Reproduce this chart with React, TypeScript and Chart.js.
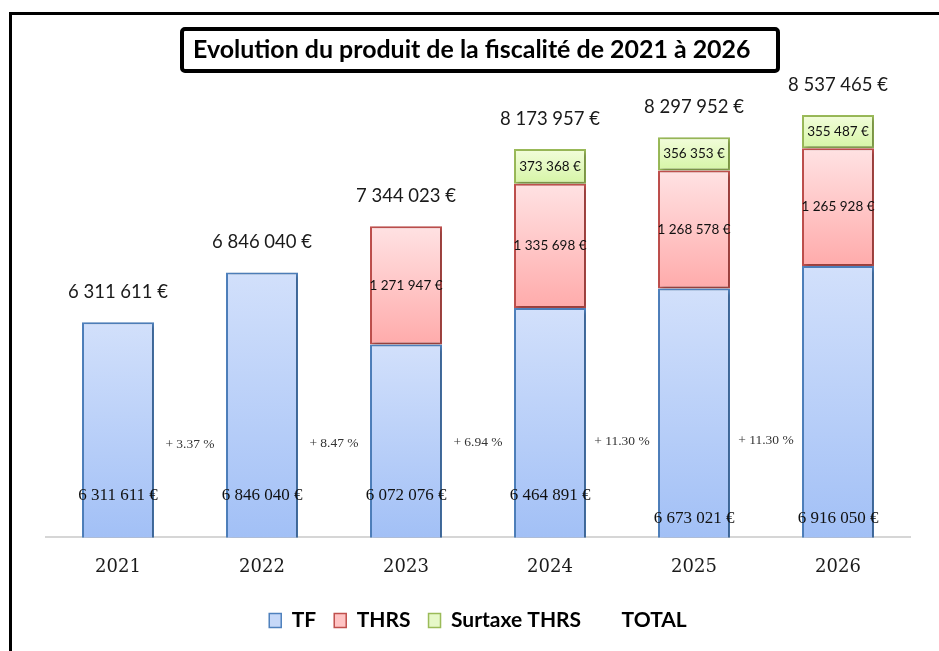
import React, { useEffect, useRef } from "react";
import { Chart, registerables } from "chart.js";

Chart.register(...registerables);

const categories = ["2021", "2022", "2023", "2024", "2025", "2026"];
const tfValues = [6311611, 6846040, 6072076, 6464891, 6673021, 6916050];
const thrsValues = [null, null, 1271947, 1335698, 1268578, 1265928];
const surtaxeValues = [null, null, null, 373368, 356353, 355487];
const totalValues = [6311611, 6846040, 7344023, 8173957, 8297952, 8537465];
const growthLabels = ["+ 3.37 %", "+ 8.47 %", "+ 6.94 %", "+ 11.30 %", "+ 11.30 %"];
const titleText = "Evolution du produit de la fiscalité de 2021 à 2026";

const Y_MIN = 4000000;
const Y_MAX = 9000000;
const GROWTH_LEVEL = 5000000;
const TF_LABEL_LIFT = [42, 42, 42, 42, 19, 19];

const SANS = "Lato, 'Open Sans', sans-serif";
const SERIF = "'Liberation Serif', 'DejaVu Serif', serif";
const SERIF_WIDE = "'DejaVu Serif', serif";

const fmt = (v: number) => String(v).replace(/\B(?=(\d{3})+(?!\d))/g, " ") + " €";

const stackSeries = [tfValues, thrsValues, surtaxeValues];

function gradientFor(top: string, bottom: string, solid: string) {
  return (ctx: any) => {
    const chart = ctx.chart;
    const { chartArea, scales } = chart;
    if (!chartArea || ctx.type !== "data" || !scales.y) return solid;
    const d = ctx.datasetIndex;
    const i = ctx.dataIndex;
    let start = 0;
    for (let k = 0; k < d; k++) start += (stackSeries[k][i] as number) || 0;
    const val = (stackSeries[d][i] as number) || 0;
    const yTop = scales.y.getPixelForValue(start + val);
    const yBot = scales.y.getPixelForValue(Math.max(start, Y_MIN));
    if (!isFinite(yTop) || !isFinite(yBot) || yTop === yBot) return solid;
    const g = chart.ctx.createLinearGradient(0, yTop, 0, yBot);
    g.addColorStop(0, top);
    g.addColorStop(1, bottom);
    return g;
  };
}

const framePlugin = {
  id: "frame",
  beforeDraw(chart: any) {
    const c = chart.ctx;
    c.save();
    c.fillStyle = "#ffffff";
    c.fillRect(0, 0, chart.width, chart.height);
    c.fillStyle = "#000000";
    c.fillRect(9, 12, 3, chart.height - 12);
    c.fillRect(9, 12, chart.width - 9, 3);
    // title box
    c.lineWidth = 4;
    c.strokeStyle = "#000";
    const bx = 182, by = 29, bw = 596, bh = 42;
    c.beginPath();
    if ((c as any).roundRect) (c as any).roundRect(bx, by, bw, bh, 3);
    else c.rect(bx, by, bw, bh);
    c.stroke();
    let size = 22;
    c.font = `bold ${size}px ${SANS}`;
    const w = c.measureText(titleText).width;
    size = size * (558 / w);
    c.font = `bold ${size}px ${SANS}`;
    c.fillStyle = "#000";
    c.textAlign = "left";
    c.textBaseline = "middle";
    c.fillText(titleText, 193, 50);
    c.restore();
  },
  beforeDatasetsDraw(chart: any) {
    const c = chart.ctx;
    c.save();
    c.shadowColor = "rgba(0,0,0,0.28)";
    c.shadowBlur = 4;
    c.shadowOffsetX = 2;
    c.shadowOffsetY = 2;
  },
  afterDatasetsDraw(chart: any) {
    const c = chart.ctx;
    c.restore();
    const xs = chart.scales.x;
    const ys = chart.scales.y;
    const basePx = ys.getPixelForValue(Y_MIN);
    c.save();
    c.textAlign = "center";
    c.textBaseline = "middle";
    // TF labels
    c.font = `17px ${SERIF}`;
    c.fillStyle = "#111";
    tfValues.forEach((v, i) => {
      c.fillText(fmt(v), xs.getPixelForValue(i), basePx - TF_LABEL_LIFT[i]);
    });
    // THRS & surtaxe labels centered
    c.font = `13.5px ${SANS}`;
    [1, 2].forEach((d) => {
      const meta = chart.getDatasetMeta(d);
      const vals = stackSeries[d];
      meta.data.forEach((el: any, i: number) => {
        const v = vals[i];
        if (v == null) return;
        c.fillText(fmt(v as number), el.x, (el.y + el.base) / 2);
      });
    });
    // totals
    c.font = `18.5px ${SANS}`;
    c.fillStyle = "#1a1a1a";
    totalValues.forEach((v, i) => {
      c.fillText(fmt(v), xs.getPixelForValue(i), ys.getPixelForValue(v) - 30);
    });
    // growth
    c.font = `13.5px ${SERIF}`;
    c.fillStyle = "#333";
    growthLabels.forEach((t, i) => {
      const x = (xs.getPixelForValue(i) + xs.getPixelForValue(i + 1)) / 2;
      c.fillText(t, x, ys.getPixelForValue(GROWTH_LEVEL) - i);
    });
    c.restore();
  },
};

const legendStyles = [
  { fill: "#c6d8f8", stroke: "#4f81bd" },
  { fill: "#ffc4c4", stroke: "#c0504d" },
  { fill: "#e6f8c8", stroke: "#9bbb59" },
  { fill: "rgba(0,0,0,0)", stroke: "rgba(0,0,0,0)" },
];

export default function App() {
  const ref = useRef<HTMLCanvasElement | null>(null);
  useEffect(() => {
    if (!ref.current) return;
    const chart = new Chart(ref.current, {
      type: "bar",
      data: {
        labels: categories,
        datasets: [
          {
            label: "TF",
            data: tfValues,
            backgroundColor: gradientFor("#d2e0fb", "#a2c0f6", "#bcd0f8"),
            borderColor: "#4f81bd",
            borderWidth: { top: 2, left: 2, right: 2, bottom: 0 },
            borderSkipped: false,
            categoryPercentage: 1,
            barPercentage: 0.5,
          } as any,
          {
            label: "THRS",
            data: thrsValues,
            backgroundColor: gradientFor("#ffe2e3", "#ffabab", "#ffc4c4"),
            borderColor: "#c0504d",
            borderWidth: { top: 2, left: 2, right: 2, bottom: 2 },
            borderSkipped: false,
            categoryPercentage: 1,
            barPercentage: 0.5,
          } as any,
          {
            label: "Surtaxe THRS",
            data: surtaxeValues,
            backgroundColor: gradientFor("#f2fddb", "#d6f5a6", "#e6f8c8"),
            borderColor: "#9bbb59",
            borderWidth: { top: 2, left: 2, right: 2, bottom: 2 },
            borderSkipped: false,
            categoryPercentage: 1,
            barPercentage: 0.5,
          } as any,
          {
            type: "line",
            label: "TOTAL",
            data: totalValues,
            showLine: false,
            pointRadius: 0,
            borderColor: "rgba(0,0,0,0)",
            backgroundColor: "rgba(0,0,0,0)",
          } as any,
        ],
      },
      options: {
        animation: false,
        responsive: false,
        layout: { padding: { left: 46, right: 29, top: 72, bottom: 10 } },
        scales: {
          x: {
            stacked: true,
            grid: { display: false, drawTicks: false },
            border: { display: true, color: "#d6d6d6", width: 2 },
            ticks: { color: "#1a1a1a", font: { family: SERIF_WIDE, size: 18 }, padding: 19 },
            afterFit: (scale: any) => {
              scale.height = scale.height - 5;
            },
          },
          y: {
            stacked: true,
            display: false,
            min: Y_MIN,
            max: Y_MAX,
          },
        },
        plugins: {
          title: { display: false },
          tooltip: { enabled: false },
          legend: {
            position: "bottom",
            labels: {
              boxWidth: 12,
              boxHeight: 14,
              padding: 18,
              color: "#000",
              font: { family: SANS, size: 21, weight: "bold" },
              generateLabels: (ch: any) =>
                ch.data.datasets.map((ds: any, i: number) => ({
                  text: ds.label,
                  fillStyle: legendStyles[i].fill,
                  strokeStyle: legendStyles[i].stroke,
                  lineWidth: i === 3 ? 0 : 1.5,
                  hidden: false,
                  datasetIndex: i,
                  fontColor: "#000",
                })),
            },
          },
        },
      },
      plugins: [framePlugin],
    } as any);
    return () => chart.destroy();
  }, []);
  return (
    <div style={{ position: "fixed", left: 0, top: 0, width: 939, height: 651, background: "#fff" }}>
      <canvas ref={ref} width={939} height={651} style={{ display: "block" }} />
    </div>
  );
}
